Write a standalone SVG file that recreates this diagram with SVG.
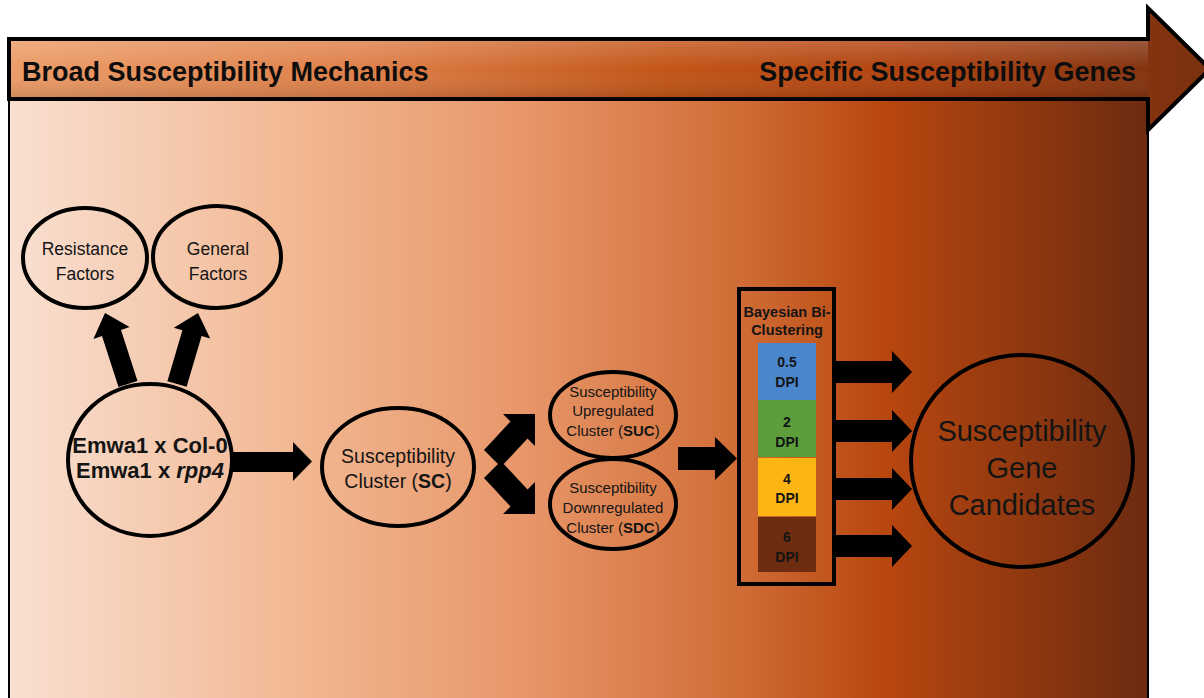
<svg xmlns="http://www.w3.org/2000/svg" width="1204" height="698" viewBox="0 0 1204 698">
<defs>
<linearGradient id="bodyGrad" gradientUnits="userSpaceOnUse" x1="8" y1="0" x2="1148" y2="0">
<stop offset="0" stop-color="#f9e0d2"/>
<stop offset="0.25" stop-color="#f2b893"/>
<stop offset="0.45" stop-color="#e8976a"/>
<stop offset="0.65" stop-color="#cf6a33"/>
<stop offset="0.77" stop-color="#b8460f"/>
<stop offset="1" stop-color="#6c2b10"/>
</linearGradient>
<linearGradient id="bannerGrad" gradientUnits="userSpaceOnUse" x1="8" y1="0" x2="1204" y2="0">
<stop offset="0" stop-color="#ec9c68"/>
<stop offset="0.3" stop-color="#de7f48"/>
<stop offset="0.55" stop-color="#c35518"/>
<stop offset="0.75" stop-color="#b0420f"/>
<stop offset="1" stop-color="#7a3010"/>
</linearGradient>
<linearGradient id="bannerShade" x1="0" y1="0" x2="0" y2="1">
<stop offset="0" stop-color="#ffffff" stop-opacity="0.18"/>
<stop offset="0.5" stop-color="#ffffff" stop-opacity="0"/>
<stop offset="1" stop-color="#000000" stop-opacity="0.12"/>
</linearGradient>
</defs>
<style>
.node{fill:none;stroke:#000;stroke-width:4}
.arrow{fill:#000;stroke:none}
.t{font-family:"Liberation Sans",Arial,sans-serif;fill:#141414;text-anchor:middle}
.b{font-weight:bold}
.ban{font-family:"Liberation Sans",Arial,sans-serif;font-weight:bold;font-size:27px;fill:#0d0d0d}
</style>
<rect x="0" y="0" width="1204" height="698" fill="#ffffff"/>
<g id="background">
<rect x="9" y="98" width="1139" height="610" fill="url(#bodyGrad)" stroke="#000" stroke-width="2"/>
<polygon points="9,39 1148,39 1148,8 1210,69 1148,130 1148,99 9,99" fill="url(#bannerGrad)" stroke="#000" stroke-width="4" stroke-linejoin="miter"/>
<polygon points="11,41 1148,41 1148,97 11,97" fill="url(#bannerShade)"/>
<text class="ban" x="22" y="81">Broad Susceptibility Mechanics</text>
<text class="ban" x="1136" y="81" text-anchor="end">Specific Susceptibility Genes</text>
</g>
<g id="connectors">
<polygon class="arrow" points="118.5,387.1 102,336.1 93.4,338.9 105,313 129.6,327.1 121,329.9 137.5,380.9"/>
<polygon class="arrow" points="167.4,381.2 182.4,330.3 173.8,327.7 198,313 210.2,338.5 201.6,335.9 186.6,386.8"/>
<polygon class="arrow" points="233,452 293,452 293,442 312,461.5 293,481 293,472 233,472"/>
<polygon class="arrow" points="484,450 510.5,421.5 503,414 535,414 535,446 527.5,438.5 501,467"/>
<polygon class="arrow" points="484,478 510.5,506.5 503,514 535,514 535,482 527.5,489.5 501,461"/>
<polygon class="arrow" points="678,447 715,447 715,437 737,458.5 715,480 715,470 678,470"/>
<polygon class="arrow" points="835,361 892,361 892,351 912,372 892,393 892,383 835,383"/>
<polygon class="arrow" points="835,420 892,420 892,410 912,431 892,452 892,442 835,442"/>
<polygon class="arrow" points="835,478 892,478 892,468 912,489 892,510 892,500 835,500"/>
<polygon class="arrow" points="835,535 892,535 892,525 912,546 892,567 892,557 835,557"/>
</g>
<g id="resistance">
<ellipse class="node" cx="85" cy="258" rx="62" ry="50"/>
<text class="t" font-size="17.5" x="85" y="255">Resistance</text>
<text class="t" font-size="17.5" x="85" y="280">Factors</text>
</g>
<g id="general">
<ellipse class="node" cx="217" cy="257" rx="64" ry="51"/>
<text class="t" font-size="17.5" x="218" y="255">General</text>
<text class="t" font-size="17.5" x="218" y="280">Factors</text>
</g>
<g id="emwa1">
<ellipse class="node" cx="150" cy="460" rx="82" ry="76"/>
<text class="t b" font-size="22" x="150" y="453">Emwa1 x Col-0</text>
<text class="t b" font-size="22" x="150" y="478">Emwa1 x <tspan font-style="italic">rpp4</tspan></text>
</g>
<g id="sc">
<ellipse class="node" cx="398" cy="467" rx="76" ry="59"/>
<text class="t" font-size="19.5" x="398" y="463">Susceptibility</text>
<text class="t" font-size="19.5" x="398" y="488">Cluster (<tspan class="b">SC</tspan>)</text>
</g>
<g id="suc">
<ellipse class="node" cx="613" cy="415" rx="63" ry="43"/>
<text class="t" font-size="15" x="613" y="397">Susceptibility</text>
<text class="t" font-size="15" x="613" y="416">Upregulated</text>
<text class="t" font-size="15" x="613" y="436">Cluster (<tspan class="b">SUC</tspan>)</text>
</g>
<g id="sdc">
<ellipse class="node" cx="613" cy="504" rx="63" ry="45"/>
<text class="t" font-size="15" x="613" y="493">Susceptibility</text>
<text class="t" font-size="15" x="613" y="513">Downregulated</text>
<text class="t" font-size="15" x="613" y="533">Cluster (<tspan class="b">SDC</tspan>)</text>
</g>
<g id="bayesian">
<rect x="739" y="289" width="95" height="295" fill="none" stroke="#000" stroke-width="4"/>
<text class="t b" font-size="14.5" x="787" y="317">Bayesian Bi-</text>
<text class="t b" font-size="14.5" x="787" y="335">Clustering</text>
<rect x="758" y="343" width="58" height="57" fill="#4a86cc"/>
<rect x="758" y="400" width="58" height="57" fill="#5b9e3b"/>
<rect x="758" y="458" width="58" height="58" fill="#fdb514"/>
<rect x="758" y="517" width="58" height="55" fill="#6e2c10"/>
<text class="t b" font-size="14" x="787" y="367">0.5</text>
<text class="t b" font-size="14" x="787" y="387">DPI</text>
<text class="t b" font-size="14" x="787" y="427">2</text>
<text class="t b" font-size="14" x="787" y="447">DPI</text>
<text class="t b" font-size="14" x="787" y="484">4</text>
<text class="t b" font-size="14" x="787" y="503">DPI</text>
<text class="t b" font-size="14" x="787" y="542" fill="#1e1008">6</text>
<text class="t b" font-size="14" x="787" y="562" fill="#1e1008">DPI</text>
</g>
<g id="candidates">
<ellipse class="node" cx="1022" cy="461" rx="111" ry="106" stroke-width="3.5"/>
<text class="t" font-size="29" x="1022" y="441">Susceptibility</text>
<text class="t" font-size="29" x="1022" y="478">Gene</text>
<text class="t" font-size="29" x="1022" y="515">Candidates</text>
</g>
</svg>
